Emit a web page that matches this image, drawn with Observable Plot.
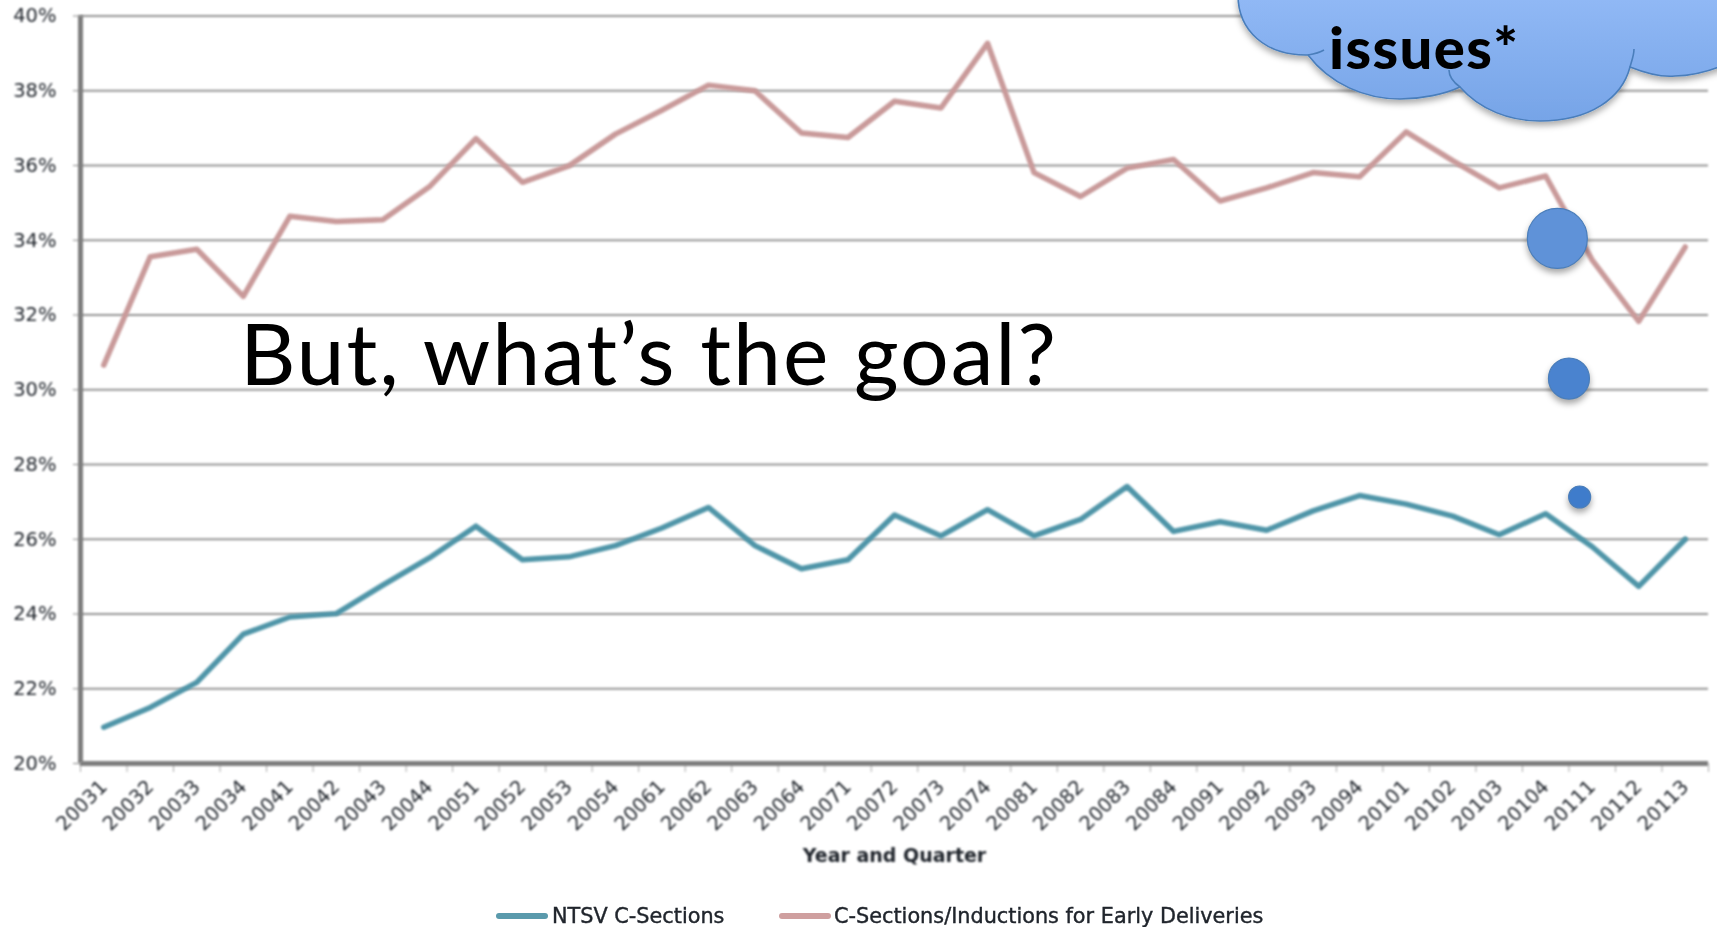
<!DOCTYPE html>
<html>
<head>
<meta charset="utf-8">
<script src="https://cdn.jsdelivr.net/npm/d3@7"></script>
<script src="https://cdn.jsdelivr.net/npm/@observablehq/plot@0.6"></script>
<style>
  html, body { margin: 0; padding: 0; background: #fff; overflow: hidden; }
  #stage { position: relative; width: 1717px; height: 927px; }
  #overlay { position: absolute; left: 0; top: 0; pointer-events: none; }
  #legend { position: absolute; left: 0; top: 904px; width: 1717px; height: 24px; font: 20.8px "DejaVu Sans", sans-serif; color: #20252c; filter: blur(0.7px); }
  #legend span { position: absolute; white-space: nowrap; line-height: 24px; -webkit-text-stroke: 0.4px #20252c; }
  #legend i { position: absolute; top: 9px; height: 6px; width: 52px; border-radius: 3px; }
  #chart [aria-label="rule"], #chart [aria-label="line"], #chart [aria-label="text"],
  #chart [aria-label^="y-axis"], #chart [aria-label^="x-axis"] { filter: blur(0.8px); }
  #chart [aria-label$="tick label"], #chart [aria-label="text"] { -webkit-text-stroke: 0.5px currentColor; }
  #chart [aria-label="dot"] circle { filter: drop-shadow(0 4px 3px rgba(0,0,0,.35)); }
</style>
</head>
<body>
<div id="stage">
  <div id="chart"></div>
  <svg id="overlay" width="1717" height="927" viewBox="0 0 1717 927">
    <defs>
      <linearGradient id="cloudFill" gradientUnits="userSpaceOnUse" x1="0" y1="0" x2="0" y2="122">
        <stop offset="0" stop-color="#90b8f5"/>
        <stop offset="1" stop-color="#76a4e7"/>
      </linearGradient>
      <filter id="cloudShadow" x="-10%" y="-10%" width="120%" height="130%">
        <feDropShadow dx="0" dy="4" stdDeviation="3" flood-color="#000" flood-opacity="0.32"/>
      </filter>
    </defs>
    <!-- thought-bubble outline, running off the top and right of the page -->
    <path filter="url(#cloudShadow)" fill="url(#cloudFill)" stroke="#4a7ebb" stroke-width="1.6"
      d="M1238,-5 C1238,30 1265,56 1308,55 C1330,84 1365,99 1400,99 C1422,99 1445,94 1460,87
         C1480,110 1510,121 1540,121 C1590,121 1622,98 1630,67 C1650,75 1665,77 1675,76
         C1692,76 1706,72 1722,66 L1722,-5 Z"/>
    <path fill="none" stroke="#4a7ebb" stroke-width="1.6"
      d="M1308,55 C1314,54 1319,53 1324,50 M1460,87 C1453,82 1449,76 1449,70 M1630,67 C1632,60 1634,55 1634,49"/>
    <text x="1329" y="69" font-family="Lato, sans-serif" font-weight="900" font-size="58" letter-spacing="1.4" fill="#000">issues*</text>
    <text x="240" y="385" font-family="Lato, sans-serif" font-size="86" letter-spacing="1.9" fill="#000">But, what’s the goal?</text>
  </svg>
  <div id="legend">
    <i style="left:496px;background:#5a9aac"></i><span style="left:552px">NTSV C-Sections</span>
    <i style="left:779px;background:#cf9f9f"></i><span style="left:834px">C-Sections/Inductions for Early Deliveries</span>
  </div>
</div>
<script>
// Quarter codes: year followed by quarter number
const quarters = [
  "20031","20032","20033","20034","20041","20042","20043","20044",
  "20051","20052","20053","20054","20061","20062","20063","20064",
  "20071","20072","20073","20074","20081","20082","20083","20084",
  "20091","20092","20093","20094","20101","20102","20103","20104",
  "20111","20112","20113"
];

// Rates in percent, one per quarter
const ntsvSections = [
  20.97,21.5,22.17,23.46,23.92,24.01,24.77,25.5,
  26.35,25.45,25.53,25.83,26.3,26.85,25.83,25.21,
  25.45,26.65,26.09,26.79,26.09,26.53,27.41,26.21,
  26.47,26.24,26.76,27.17,26.94,26.62,26.12,26.68,
  25.8,24.74,26.0
];
const earlyDeliveries = [
  30.66,33.56,33.76,32.5,34.64,34.5,34.55,35.43,
  36.72,35.55,35.99,36.84,37.48,38.15,38.0,36.87,
  36.75,37.72,37.54,39.27,35.81,35.17,35.93,36.16,
  35.05,35.4,35.81,35.7,36.9,36.13,35.4,35.72,
  33.47,31.83,33.82
];

// Shrinking goal markers, placed on the chart's own scales
const goalPosition = [31.75, 32.0, 32.23];
const goalRate = [34.05, 30.3, 27.13];
const goalRadius = [30, 20.5, 11];
const goalColor = ["#5f92d8", "#4a83cf", "#3f7ccb"];

const yTicks = d3.range(20, 41, 2);
const edges = d3.range(0, quarters.length + 1);
const centers = quarters.map((_, i) => i + 0.5);
const ntsvRows = quarters.map((_, i) => ({pos: i + 0.5, value: ntsvSections[i]}));
const earlyRows = quarters.map((_, i) => ({pos: i + 0.5, value: earlyDeliveries[i]}));
const goalRows = goalPosition.map((pos, i) => ({pos, value: goalRate[i], r: goalRadius[i], color: goalColor[i]}));

const tickFont = {fontSize: 19.5, fontFamily: '"DejaVu Sans", sans-serif'};

const chart = Plot.plot({
  width: 1717,
  height: 900,
  marginLeft: 80,
  marginRight: 9,
  marginTop: 15.5,
  marginBottom: 137,
  style: {fontFamily: '"DejaVu Sans", sans-serif', color: "#20252c", background: "transparent"},
  x: {domain: [0, quarters.length], range: [80, 1708]},
  y: {domain: [20, 40]},
  marks: [
    Plot.ruleY(yTicks.filter(d => d > 20), {stroke: "#969696", strokeWidth: 2}),
    Plot.axisY({ticks: yTicks, tickFormat: d => d + "%", tickSize: 7, tickPadding: 17, stroke: "#888", label: null, ...tickFont}),
    Plot.axisX({ticks: edges, tickFormat: () => "", tickSize: 9, stroke: "#aaa", label: null}),
    Plot.axisX({
      ticks: centers,
      tickFormat: d => quarters[Math.floor(d)],
      tickSize: 0,
      tickPadding: 20,
      tickRotate: -45,
      label: null,
      ...tickFont
    }),
    Plot.ruleX([0], {stroke: "#7d7d7d", strokeWidth: 5}),
    Plot.ruleY([20], {stroke: "#7d7d7d", strokeWidth: 5}),
    Plot.line(ntsvRows, {x: "pos", y: "value", stroke: "#4f95a8", strokeWidth: 5.5}),
    Plot.line(earlyRows, {x: "pos", y: "value", stroke: "#c99a9a", strokeWidth: 5.5}),
    Plot.dot(goalRows, {x: "pos", y: "value", r: "r", fill: "color", stroke: "#4a7ebb", strokeWidth: 1.2}),
    Plot.text(["Year and Quarter"], {
      frameAnchor: "bottom",
      dy: 98,
      fontSize: 19,
      fontWeight: 700,
      fill: "#20252c"
    })
  ],
  r: {type: "identity"}
});
document.getElementById("chart").appendChild(chart);
</script>
</body>
</html>
